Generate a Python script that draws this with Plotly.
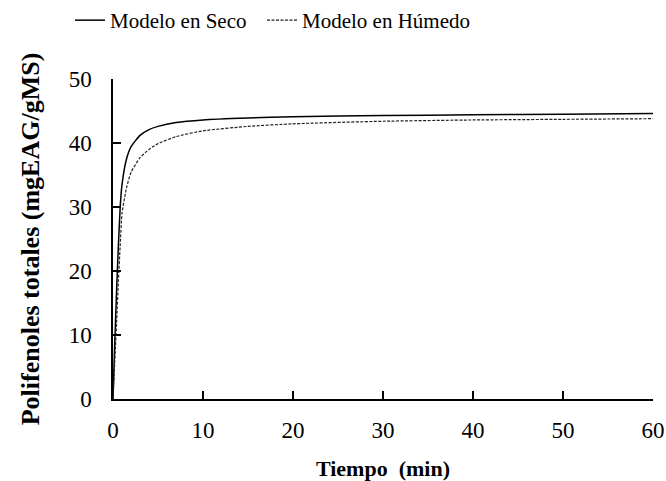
import plotly.graph_objects as go

# Data
t_seco = [0, 0.2, 0.4, 0.6, 0.8, 1.0, 1.5, 2, 3, 4, 5, 7, 10, 15, 20, 30, 40, 50, 60]
y_seco = [0, 9, 17, 24, 30, 33.5, 37.5, 39.4, 41.2, 42.1, 42.6, 43.2, 43.6, 43.9, 44.1, 44.3, 44.4, 44.5, 44.6]

t_humedo = [0, 0.2, 0.4, 0.6, 0.8, 1.0, 1.5, 2, 3, 4, 5, 7, 10, 15, 20, 30, 40, 50, 60]
y_humedo = [0, 6, 12, 18.5, 24, 29, 33, 35.4, 37.7, 39.0, 39.9, 41.0, 41.9, 42.6, 43.0, 43.4, 43.6, 43.7, 43.8]

series_names = ["Modelo en Seco", "Modelo en Húmedo"]

x_ticks = [0, 10, 20, 30, 40, 50, 60]
y_ticks = [0, 10, 20, 30, 40, 50]

FONT = "Liberation Serif"
GAP = "&nbsp;" * 2

fig = go.Figure()
fig.add_trace(go.Scatter(x=t_seco, y=y_seco, mode="lines", name=series_names[0] + GAP,
                         line=dict(color="black", width=1.5, shape="spline", smoothing=0.5)))
fig.add_trace(go.Scatter(x=t_humedo, y=y_humedo, mode="lines", name=series_names[1],
                         line=dict(color="#222222", width=1.2, dash="3px,1.5px", shape="spline", smoothing=0.5)))

axis_common = dict(showline=True, linecolor="black", linewidth=1.5, ticks="inside",
                   ticklen=8, tickwidth=1.5, tickcolor="black", showgrid=False, zeroline=False,
                   automargin=False,
                   tickfont=dict(family=FONT, size=23, color="black"))

fig.update_layout(
    width=666, height=481,
    margin=dict(l=113, r=13, t=79, b=82, autoexpand=False),
    paper_bgcolor="white", plot_bgcolor="white",
    font=dict(family=FONT, size=21, color="black"),
    showlegend=True,
    legend=dict(orientation="h", x=70 / 666, xref="container", xanchor="left",
                y=1.0, yref="container", yanchor="top",
                font=dict(family=FONT, size=21, color="black"), bgcolor="rgba(0,0,0,0)",
                tracegroupgap=0),
    xaxis=dict(range=[0, 60], tickvals=x_ticks, ticklabelstandoff=10,
               title=dict(text="<b>Tiempo  (min)</b>", font=dict(family=FONT, size=22), standoff=18),
               **axis_common),
    yaxis=dict(range=[0, 50], tickvals=y_ticks, ticklabelstandoff=15,
               title=dict(text="<b>Polifenoles totales (mgEAG/gMS)</b>", font=dict(family=FONT, size=26), standoff=22),
               **axis_common),
)

fig.write_html("out.html")
